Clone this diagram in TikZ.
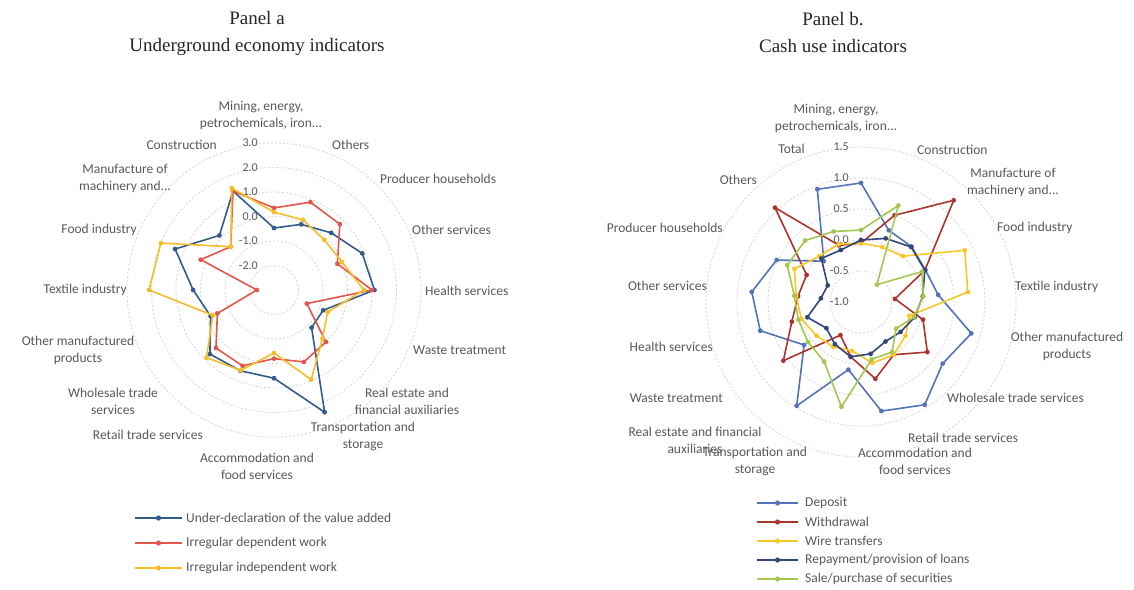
\documentclass[tikz,border=0pt]{standalone}
\usepackage{fontspec}
\usetikzlibrary{calc}
\setmainfont{Liberation Serif}
\newfontfamily\lab{Carlito}
\definecolor{labgray}{RGB}{89,89,89}
\definecolor{gridc}{RGB}{215,215,215}
\definecolor{aBlue}{RGB}{50,92,140}
\definecolor{aRed}{RGB}{226,87,76}
\definecolor{aYel}{RGB}{245,190,40}
\definecolor{bDep}{RGB}{85,115,185}
\definecolor{bWit}{RGB}{172,52,45}
\definecolor{bWir}{RGB}{248,200,40}
\definecolor{bRep}{RGB}{50,70,120}
\definecolor{bSec}{RGB}{165,198,80}
% #1 prefix #2 cx #3 cy #4 px/unit #5 min #6 n #7 values #8 colour
\newcommand\radarline[8]{%
  \foreach \v [count=\i from 0] in {#7} {
    \pgfmathsetmacro\ang{90-\i*360/#6}
    \pgfmathsetmacro\rr{(\v-(#5))*#4}
    \coordinate (#1-\i) at ({#2+\rr*cos(\ang)},{#3-\rr*sin(\ang)});
  }
  \pgfmathtruncatemacro\last{#6-1}
  \draw[serie,#8] (#1-0) \foreach \j in {1,...,\last} {-- (#1-\j)} -- cycle;
  \foreach \j in {0,...,\last} \fill[#8] (#1-\j) circle[radius=2.4pt];
}
\begin{document}
\begin{tikzpicture}[x=1pt,y=-1pt,
  lbl/.style={font=\lab\fontsize{13.5}{17}\selectfont, text=labgray, inner sep=0pt},
  val/.style={font=\lab\fontsize{12}{14}\selectfont, text=labgray, inner sep=0pt, anchor=east},
  ttl/.style={font=\fontsize{19}{27}\selectfont, text=black!85, align=center, inner sep=0pt},
  grid/.style={draw=gridc, line width=0.8pt, dash pattern=on 2pt off 2pt},
  serie/.style={line width=1.6pt, line join=round},
  leg/.style={line width=1.8pt}]
\useasboundingbox[fill=white] (0,0) rectangle (1134,589);

% ---------------- Panel a ----------------
\node[ttl] (ta) at (257,33) {Panel a\\Underground economy indicators};
\foreach \k in {1,...,6} \draw[grid] (274,290) circle[radius={\k*24.5pt}];
\foreach \t [count=\k from 1] in {-2.0,-1.0,0.0,1.0,2.0,3.0}
  \node[val] (av\k) at (258,{290-\k*24.5}) {\t};

\radarline{ab}{274}{290}{24.5}{-3}{16}{-0.47,-0.1,0.3,0.9,1.1,-0.83,-0.83,2.4,0.6,0.57,0.7,-0.2,0.3,1.37,0.15,1.37}{aBlue}
\radarline{ar}{274}{290}{24.5}{-3}{16}{0.35,0.88,0.8,-0.2,1.0,-1.55,0.0,0.18,-0.2,0.35,0.35,-0.5,-2.3,0.24,-0.5,1.37}{aRed}
\radarline{ay}{274}{290}{24.5}{-3}{16}{0.18,0.1,-0.1,0.0,0.67,-0.63,-0.2,0.96,-0.43,0.55,0.9,-0.3,2.1,2.0,-0.5,1.5}{aYel}

\node[lbl,align=center] (a0) at (261,115) {Mining, energy,\\petrochemicals, iron...};
\node[lbl,anchor=west] (a1) at (332,145) {Others};
\node[lbl,anchor=west] (a2) at (380,179) {Producer households};
\node[lbl,anchor=west] (a3) at (412,230) {Other services};
\node[lbl,anchor=west] (a4) at (425,291) {Health services};
\node[lbl,anchor=west] (a5) at (413,350) {Waste treatment};
\node[lbl,align=center] (a6) at (407,401) {Real estate and\\financial auxiliaries};
\node[lbl,align=center] (a7) at (363,436) {Transportation and\\storage};
\node[lbl,align=center] (a8) at (257,466) {Accommodation and\\food services};
\node[lbl,anchor=east] (a9) at (203,435) {Retail trade services};
\node[lbl,align=center] (a10) at (113,401) {Wholesale trade\\services};
\node[lbl,align=center] (a11) at (78,350) {Other manufactured\\products};
\node[lbl,anchor=east] (a12) at (127,290) {Textile industry};
\node[lbl,anchor=east] (a13) at (137,230) {Food industry};
\node[lbl,align=center] (a14) at (125,178) {Manufacture of\\machinery and...};
\node[lbl,anchor=east] (a15) at (217,145) {Construction};

% legend a
\foreach \c/\t [count=\k from 0] in {aBlue/{Under-declaration of the value added}, aRed/{Irregular dependent work}, aYel/{Irregular independent work}} {
  \coordinate (la\k s) at (135,{518+\k*25});
  \coordinate (la\k e) at (182,{518+\k*25});
  \draw[leg,\c] (la\k s) -- (la\k e);
  \fill[\c] ($(la\k s)!0.5!(la\k e)$) circle[radius=2.6pt];
  \node[lbl,anchor=west] (lat\k) at (186,{518+\k*25}) {\t};
}

% ---------------- Panel b ----------------
\node[ttl] (tb) at (833,33) {Panel b.\\Cash use indicators};
\foreach \k in {1,...,5} \draw[grid] (861,302) circle[radius={\k*31pt}];
\foreach \t [count=\k from 0] in {-1.0,-0.5,0.0,0.5,1.0,1.5}
  \node[val] (bv\k) at (849,{302-\k*31}) {\t};

\radarline{bd}{861}{302}{62}{-1}{17}{0.92,0.24,0.21,0.16,0.25,0.85,0.65,0.95,0.79,0.11,0.97,0.15,0.69,0.77,0.52,-0.11,0.95}{bDep}
\radarline{bw}{861}{302}{62}{-1}{17}{-0.05,0.5,1.22,0.15,-0.45,0.04,0.34,0.0,0.26,-0.1,-0.37,0.57,0.16,0.02,-0.02,1.06,-0.02}{bWit}
\radarline{by}{861}{302}{62}{-1}{17}{-0.05,-0.05,0.0,0.87,0.73,-0.19,-0.1,0.0,0.0,-0.2,-0.15,-0.1,0.0,0.05,0.2,0.0,0.0}{bWir}
\radarline{bn}{861}{302}{62}{-1}{17}{0.0,0.1,0.2,0.15,0.0,-0.1,-0.2,-0.25,-0.15,-0.1,-0.2,-0.3,-0.1,-0.35,-0.4,-0.05,-0.1}{bRep}
\radarline{bg}{861}{302}{62}{-1}{17}{0.16,0.67,-0.62,0.1,0.01,-0.11,-0.29,-0.05,-0.06,0.72,0.13,0.07,0.05,0.08,0.33,0.34,0.22}{bSec}

\node[lbl,align=center] (b0) at (836,118) {Mining, energy,\\petrochemicals, iron...};
\node[lbl,anchor=west] (b1) at (917,150) {Construction};
\node[lbl,align=center] (b2) at (1013,182) {Manufacture of\\machinery and...};
\node[lbl,anchor=west] (b3) at (997,228) {Food industry};
\node[lbl,anchor=west] (b4) at (1015,287) {Textile industry};
\node[lbl,align=center] (b5) at (1067,346) {Other manufactured\\products};
\node[lbl,anchor=west] (b6) at (947,398) {Wholesale trade services};
\node[lbl,anchor=west] (b7) at (908,438) {Retail trade services};
\node[lbl,align=center] (b8) at (915,461) {Accommodation and\\food services};
\node[lbl,align=center] (b9) at (755,461) {Transportation and\\storage};
\node[lbl,align=center] (b10) at (695,440) {Real estate and financial\\auxiliaries};
\node[lbl,anchor=east] (b11) at (723,398) {Waste treatment};
\node[lbl,anchor=east] (b12) at (713,347) {Health services};
\node[lbl,anchor=east] (b13) at (707,286) {Other services};
\node[lbl,anchor=east] (b14) at (723,228) {Producer households};
\node[lbl,anchor=east] (b15) at (757,180) {Others};
\node[lbl,anchor=east] (b16) at (805,149) {Total};

% legend b
\foreach \c/\t [count=\k from 0] in {bDep/{Deposit}, bWit/{Withdrawal}, bWir/{Wire transfers}, bRep/{Repayment/provision of loans}, bSec/{Sale/purchase of securities}} {
  \coordinate (lb\k s) at (757,{503+\k*19});
  \coordinate (lb\k e) at (798,{503+\k*19});
  \draw[leg,\c] (lb\k s) -- (lb\k e);
  \fill[\c] ($(lb\k s)!0.5!(lb\k e)$) circle[radius=2.6pt];
  \node[lbl,anchor=west] (lbt\k) at (805,{503+\k*19}) {\t};
}
\end{tikzpicture}
\end{document}
